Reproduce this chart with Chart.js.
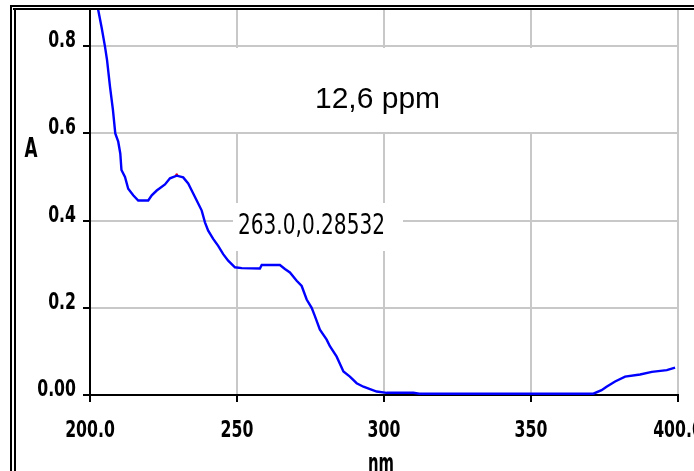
<!DOCTYPE html>
<html>
<head>
<meta charset="utf-8">
<style>
  html, body { margin: 0; padding: 0; background: #fff; overflow: hidden; }
  canvas { display: block; }
</style>
</head>
<body>
<canvas id="spectrum" width="694" height="471"></canvas>
<script src="https://cdn.jsdelivr.net/npm/chart.js@4.4.1/dist/chart.umd.min.js"></script>
<script>
const wavelength = [201.5, 202.8, 204.0, 205.1, 205.8, 206.8, 207.8, 208.6, 209.6, 210.3, 210.7, 211.9, 213.0, 214.7, 216.4, 219.8, 221.0, 222.7, 225.5, 227.2, 229.5, 231.7, 233.4, 234.6, 236.3, 238.0, 239.1, 240.2, 241.9, 243.6, 245.3, 247.0, 249.3, 251.6, 257.8, 258.4, 264.6, 266.3, 268.0, 270.3, 272.0, 273.7, 275.4, 276.5, 278.2, 280.5, 281.6, 283.9, 286.2, 288.4, 290.7, 293.0, 297.5, 300.9, 305.0, 310.0, 312.0, 340.0, 371.2, 374.0, 375.7, 378.6, 382.0, 387.1, 391.1, 396.2, 399.0];
const absorbance = [0.95, 0.883, 0.841, 0.799, 0.768, 0.707, 0.654, 0.600, 0.581, 0.554, 0.516, 0.500, 0.473, 0.458, 0.446, 0.446, 0.458, 0.469, 0.483, 0.497, 0.503, 0.499, 0.485, 0.469, 0.446, 0.423, 0.396, 0.377, 0.358, 0.342, 0.323, 0.308, 0.293, 0.291, 0.290, 0.298, 0.298, 0.289, 0.281, 0.262, 0.250, 0.219, 0.200, 0.181, 0.150, 0.127, 0.112, 0.088, 0.054, 0.042, 0.027, 0.019, 0.008, 0.005, 0.005, 0.005, 0.003, 0.003, 0.003, 0.011, 0.019, 0.031, 0.042, 0.047, 0.053, 0.057, 0.063];

// marca roja del maximo
const peakX = [229.5];
const peakY = [0.505];

// ejes
const xTickValues = [200, 250, 300, 350, 400];
const xTickLabels = ["200.0", "250", "300", "350", "400.0"];
const yTickValues = [0, 0.2, 0.4, 0.6, 0.8];
const yTickLabels = ["0.00", "0.2", "0.4", "0.6", "0.8"];

const titleText = "12,6 ppm";
const cursorText = "263.0,0.28532";
const xTitle = "nm";
const yTitle = "A";

const NARROW = '"DejaVu Sans Condensed", "Liberation Sans Narrow", sans-serif';

// texto estrechado horizontalmente (la fuente original es muy condensada)
function narrowText(ctx, text, x, y, align, sx) {
    ctx.save();
    ctx.translate(x, y);
    ctx.scale(sx, 1);
    ctx.textAlign = align;
    ctx.fillText(text, 0, 0);
    ctx.restore();
}

const labelsPlugin = {
    id: "labels",
    beforeDraw(chart) {
        // marco doble (solo arriba y a la izquierda)
        const ctx = chart.ctx;
        ctx.save();
        ctx.fillStyle = "#fff";
        ctx.fillRect(0, 0, chart.width, chart.height);
        ctx.fillStyle = "#000";
        ctx.fillRect(10, 5, chart.width - 10, 2);
        ctx.fillRect(13, 8, chart.width - 13, 2);
        ctx.fillRect(10, 5, 2, chart.height - 5);
        ctx.fillRect(14, 8, 2, chart.height - 8);
        ctx.restore();
    },
    beforeDatasetsDraw(chart) {
        // cajas blancas tras los textos
        const ctx = chart.ctx;
        ctx.save();
        ctx.fillStyle = "#fff";
        ctx.fillRect(228, 48, 448, 84);
        ctx.fillRect(233, 203, 170, 48);
        ctx.restore();
    },
    afterDatasetsDraw(chart) {
        const ctx = chart.ctx;
        const xs = chart.scales.x;
        const ys = chart.scales.y;
        ctx.save();
        ctx.fillStyle = "#000";
        ctx.textBaseline = "alphabetic";

        // rotulos de los ejes en la posicion de cada tick
        ctx.font = "bold 23px " + NARROW;
        xTickValues.forEach((v, i) => {
            narrowText(ctx, xTickLabels[i], xs.getPixelForValue(v), 437, "center", 0.76);
        });
        yTickValues.forEach((v, i) => {
            narrowText(ctx, yTickLabels[i], 76, ys.getPixelForValue(v) + 1, "right", 0.76);
        });

        ctx.textAlign = "left";
        ctx.font = '30px "Liberation Sans", Arial, sans-serif';
        ctx.fillText(titleText, 315, 108, 126);

        ctx.font = "28px " + NARROW;
        ctx.fillText(cursorText, 238, 234, 147);

        ctx.textAlign = "center";
        ctx.font = "bold 26px " + NARROW;
        ctx.fillText(yTitle, 31, 157, 13);
        ctx.fillText(xTitle, 381, 472, 26);
        ctx.restore();
    }
};

const ctx = document.getElementById("spectrum").getContext("2d");
new Chart(ctx, {
    type: "line",
    data: {
        datasets: [{
            data: wavelength.map((x, i) => ({ x, y: absorbance[i] })),
            borderColor: "#0000ff",
            borderWidth: 2.4,
            pointRadius: 0,
            tension: 0,
            fill: false,
        }, {
            data: peakX.map((x, i) => ({ x, y: peakY[i] })),
            showLine: false,
            pointRadius: 1.5,
            pointBorderWidth: 0,
            pointBackgroundColor: "#ff0000",
        }],
    },
    options: {
        responsive: false,
        animation: false,
        devicePixelRatio: 1,
        layout: { padding: { top: 10, right: 16, left: 0, bottom: 0 } },
        plugins: {
            legend: { display: false },
            tooltip: { enabled: false },
        },
        scales: {
            x: {
                type: "linear",
                min: 200,
                max: 400,
                afterBuildTicks: s => { s.ticks = xTickValues.map(v => ({ value: v })); },
                afterFit: s => { s.height = 76; s.paddingLeft = 0; s.paddingRight = 0; },
                ticks: { display: false },
                grid: { color: "#c8c8c8", lineWidth: 2, tickLength: 7, tickColor: "#000", tickWidth: 2 },
                border: { color: "#000", width: 2 },
            },
            y: {
                min: 0,
                max: 0.883,
                afterBuildTicks: s => { s.ticks = yTickValues.map(v => ({ value: v })); },
                afterFit: s => { s.width = 90; s.paddingTop = 0; s.paddingBottom = 0; },
                ticks: { display: false },
                grid: { color: "#c8c8c8", lineWidth: 2, tickLength: 7, tickColor: "#000", tickWidth: 2 },
                border: { color: "#000", width: 2 },
            },
        },
    },
    plugins: [labelsPlugin],
});
</script>
</body>
</html>
